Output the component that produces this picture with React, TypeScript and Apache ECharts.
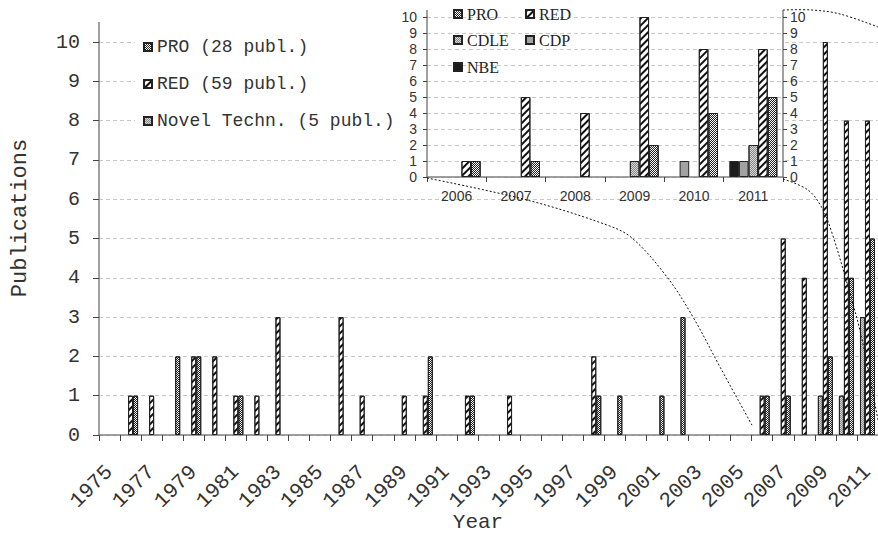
import React, { useEffect, useRef } from 'react';
import * as echarts from 'echarts';

// ---- data ----
const years = ['1975', '1976', '1977', '1978', '1979', '1980', '1981', '1982', '1983', '1984',
  '1985', '1986', '1987', '1988', '1989', '1990', '1991', '1992', '1993', '1994',
  '1995', '1996', '1997', '1998', '1999', '2000', '2001', '2002', '2003', '2004',
  '2005', '2006', '2007', '2008', '2009', '2010', '2011'];
const proCounts = [0, 1, 0, 2, 2, 0, 1, 0, 0, 0, 0, 0, 0, 0, 0, 2, 0, 1, 0, 0,
  0, 0, 0, 1, 1, 0, 1, 3, 0, 0, 0, 1, 1, 0, 2, 4, 5];
const redCounts = [0, 1, 1, 0, 2, 2, 1, 1, 3, 0, 0, 3, 1, 0, 1, 1, 0, 1, 0, 1,
  0, 0, 0, 2, 0, 0, 0, 0, 0, 0, 0, 1, 5, 4, 10, 8, 8];
const novelCounts = [0, 0, 0, 0, 0, 0, 0, 0, 0, 0, 0, 0, 0, 0, 0, 0, 0, 0, 0, 0,
  0, 0, 0, 0, 0, 0, 0, 0, 0, 0, 0, 0, 0, 0, 1, 1, 3];
const mainNames = ['PRO (28 publ.)', 'RED (59 publ.)', 'Novel Techn. (5 publ.)'];

const insetYears = ['2006', '2007', '2008', '2009', '2010', '2011'];
const insetPro = [1, 1, 0, 2, 4, 5];
const insetRed = [1, 5, 4, 10, 8, 8];
const insetCdle = [0, 0, 0, 1, 0, 2];
const insetCdp = [0, 0, 0, 0, 1, 1];
const insetNbe = [0, 0, 0, 0, 0, 1];
const insetNames = ['PRO', 'RED', 'CDLE', 'CDP', 'NBE'];

// ---- styling ----
const mono = 'Liberation Mono';
const sans = 'Liberation Sans';
const serif = 'Liberation Serif';
const nz = (v: number) => (v === 0 ? null : v);

const decalRed = { symbol: 'rect', symbolSize: 1, color: '#111', dashArrayX: [1, 0], dashArrayY: [1.4, 2.2], rotation: -Math.PI / 4 };
const decalPro = { symbol: 'rect', symbolSize: 1, color: '#222', dashArrayX: [[1, 1], [0, 1, 1, 0]], dashArrayY: [1, 0] };
const decalLight = { symbol: 'rect', symbolSize: 1, color: '#8a8a8a', dashArrayX: [[1, 1], [0, 1, 1, 0]], dashArrayY: [1, 0] };

const splitDash = { show: true, lineStyle: { color: '#c8c8c8', type: [4, 3] as any, width: 1 } };
const axisLineStyle = { show: true, lineStyle: { color: '#808080', width: 1.5 } };
const tickStyle = { color: '#444', width: 1 };

export default function App() {
  const ref = useRef<HTMLDivElement>(null);
  useEffect(() => {
    if (!ref.current) return;
    const chart = echarts.init(ref.current, null, { renderer: 'svg' });

    const barBase = { borderColor: '#222', borderWidth: 1 };
    const insetLegendPos: [string, number, number][] = [
      ['PRO', 453, 6], ['RED', 525, 6], ['CDLE', 453, 32], ['CDP', 525, 32], ['NBE', 453, 59],
    ];
    const axisExt = { stroke: '#808080', lineWidth: 1.5 };

    const baseGraphic: any[] = [
      { type: 'rect', z: 5, silent: true, shape: { x: 396, y: 0, width: 389, height: 184 }, style: { fill: '#fff' } },
      // axis lines running a little past the top tick, as in the original
      { type: 'line', z: 6, silent: true, shape: { x1: 99, y1: 22, x2: 99, y2: 42 }, style: axisExt },
      { type: 'line', z: 6, silent: true, shape: { x1: 427, y1: 10, x2: 427, y2: 17 }, style: axisExt },
      { type: 'line', z: 6, silent: true, shape: { x1: 783, y1: 10, x2: 783, y2: 17 }, style: axisExt },
      {
        type: 'polyline', z: 20, silent: true,
        shape: { points: [[427, 178], [527, 200], [607, 225], [632, 238], [667, 277], [693, 317], [720, 367], [753, 427]], smooth: 0.35 },
        style: { stroke: '#111', lineWidth: 1, lineDash: [2, 2], fill: null },
      },
      {
        type: 'polyline', z: 20, silent: true,
        shape: { points: [[783, 10], [812, 10], [840, 14], [878, 27]], smooth: 0.35 },
        style: { stroke: '#111', lineWidth: 1, lineDash: [2, 2], fill: null },
      },
      {
        type: 'polyline', z: 20, silent: true,
        shape: { points: [[783, 179], [808, 190], [822, 208], [832, 233], [847, 283], [861, 335], [878, 420]], smooth: 0.35 },
        style: { stroke: '#111', lineWidth: 1, lineDash: [2, 2], fill: null },
      },
      {
        type: 'text', x: 20, y: 218, rotation: Math.PI / 2, z: 20,
        style: { text: 'Publications', fontFamily: mono, fontSize: 22, fill: '#333', align: 'center', verticalAlign: 'middle', textAlign: 'center', textVerticalAlign: 'middle' },
      },
      {
        type: 'text', x: 478, y: 522, z: 20,
        style: { text: 'Year', fontFamily: mono, fontSize: 21, fill: '#333', align: 'center', verticalAlign: 'middle', textAlign: 'center', textVerticalAlign: 'middle' },
      },
    ];

    const option: any = {
      animation: false,
      backgroundColor: '#fff',
      grid: [
        { left: 99, right: 0, top: 42, bottom: 99 },
        { left: 427, top: 17, width: 356, height: 160 },
      ],
      xAxis: [
        {
          type: 'category', gridIndex: 0, data: years,
          axisLine: axisLineStyle,
          axisTick: { show: true, interval: 0, length: 6, lineStyle: tickStyle },
          axisLabel: { show: false },
          splitLine: { show: false },
        },
        {
          type: 'category', gridIndex: 1, data: insetYears, z: 6,
          axisLine: axisLineStyle,
          axisTick: { show: true, interval: 0, length: 5, lineStyle: tickStyle },
          axisLabel: { fontFamily: sans, fontSize: 14, color: '#333', margin: 12 },
          splitLine: { show: false },
        },
      ],
      yAxis: [
        {
          type: 'value', gridIndex: 0, min: 0, max: 10, interval: 1,
          axisLine: axisLineStyle,
          axisTick: { show: true, length: 6, lineStyle: tickStyle },
          axisLabel: { margin: 19, fontFamily: mono, fontSize: 20, color: '#333' },
          splitLine: splitDash,
        },
        {
          type: 'value', gridIndex: 1, position: 'left', min: 0, max: 10, interval: 1, z: 6,
          axisLine: axisLineStyle,
          axisTick: { show: true, length: 4, lineStyle: tickStyle },
          axisLabel: { margin: 10, fontFamily: sans, fontSize: 14, color: '#333' },
          splitLine: splitDash,
        },
        {
          type: 'value', gridIndex: 1, position: 'right', min: 0, max: 10, interval: 1, z: 6,
          axisLine: axisLineStyle,
          axisTick: { show: true, length: 4, lineStyle: tickStyle },
          axisLabel: { margin: 7, fontFamily: sans, fontSize: 14, color: '#333' },
          splitLine: { show: false },
        },
      ],
      legend: [
        {
          data: mainNames, orient: 'vertical', left: 135, top: 30,
          itemWidth: 8, itemHeight: 8, itemGap: 19, icon: 'rect',
          padding: [8, 8, 10, 8], backgroundColor: '#fff', selectedMode: false,
          textStyle: { fontFamily: mono, fontSize: 18, color: '#333', lineHeight: 18 },
        },
        ...insetLegendPos.map(([name, x, y]) => ({
          data: [name], left: x, top: y, padding: 0, z: 8,
          itemWidth: 8, itemHeight: 8, icon: 'rect', selectedMode: false,
          textStyle: { fontFamily: serif, fontSize: 16, color: '#222', lineHeight: 16 },
        })),
      ],
      series: [
        { type: 'bar', name: mainNames[2], xAxisIndex: 0, yAxisIndex: 0, data: novelCounts.map(nz), barWidth: 5, barGap: '0%', itemStyle: { ...barBase, color: '#d6d6d6', decal: decalLight } },
        { type: 'bar', name: mainNames[1], xAxisIndex: 0, yAxisIndex: 0, data: redCounts.map(nz), barWidth: 5, barGap: '0%', itemStyle: { ...barBase, color: '#fff', decal: decalRed } },
        { type: 'bar', name: mainNames[0], xAxisIndex: 0, yAxisIndex: 0, data: proCounts.map(nz), barWidth: 5, barGap: '0%', itemStyle: { ...barBase, color: '#fff', decal: decalPro } },

        { type: 'bar', name: insetNames[4], xAxisIndex: 1, yAxisIndex: 1, z: 7, data: insetNbe.map(nz), barWidth: 9.6, barGap: '0%', itemStyle: { ...barBase, color: '#1c1c1c' } },
        { type: 'bar', name: insetNames[3], xAxisIndex: 1, yAxisIndex: 1, z: 7, data: insetCdp.map(nz), barWidth: 9.6, barGap: '0%', itemStyle: { ...barBase, color: '#a2a2a2' } },
        { type: 'bar', name: insetNames[2], xAxisIndex: 1, yAxisIndex: 1, z: 7, data: insetCdle.map(nz), barWidth: 9.6, barGap: '0%', itemStyle: { ...barBase, color: '#d6d6d6', decal: decalLight } },
        { type: 'bar', name: insetNames[1], xAxisIndex: 1, yAxisIndex: 1, z: 7, data: insetRed.map(nz), barWidth: 9.6, barGap: '0%', itemStyle: { ...barBase, color: '#fff', decal: decalRed } },
        { type: 'bar', name: insetNames[0], xAxisIndex: 1, yAxisIndex: 1, z: 7, data: insetPro.map(nz), barWidth: 9.6, barGap: '0%', itemStyle: { ...barBase, color: '#fff', decal: decalPro } },
      ],
      graphic: baseGraphic,
    };
    chart.setOption(option);

    // rotated year labels, placed at the category centres given by the x axis scale
    const axisY = chart.convertToPixel({ yAxisIndex: 0 }, 0) as number;
    const yearLabels = years
      .filter((_, i) => i % 2 === 0)
      .map((yr) => ({
        type: 'text', z: 20, silent: true,
        x: chart.convertToPixel({ xAxisIndex: 0 }, yr) as number,
        y: axisY + 34,
        rotation: Math.PI / 4,
        style: { text: yr, fontFamily: mono, fontSize: 21, fill: '#333', align: 'right', verticalAlign: 'middle', textAlign: 'right', textVerticalAlign: 'middle' },
      }));
    chart.setOption({ graphic: [...baseGraphic, ...yearLabels] });

    return () => chart.dispose();
  }, []);
  return <div ref={ref} style={{ position: 'absolute', left: 0, top: 0, width: 878, height: 534, background: '#fff' }} />;
}
